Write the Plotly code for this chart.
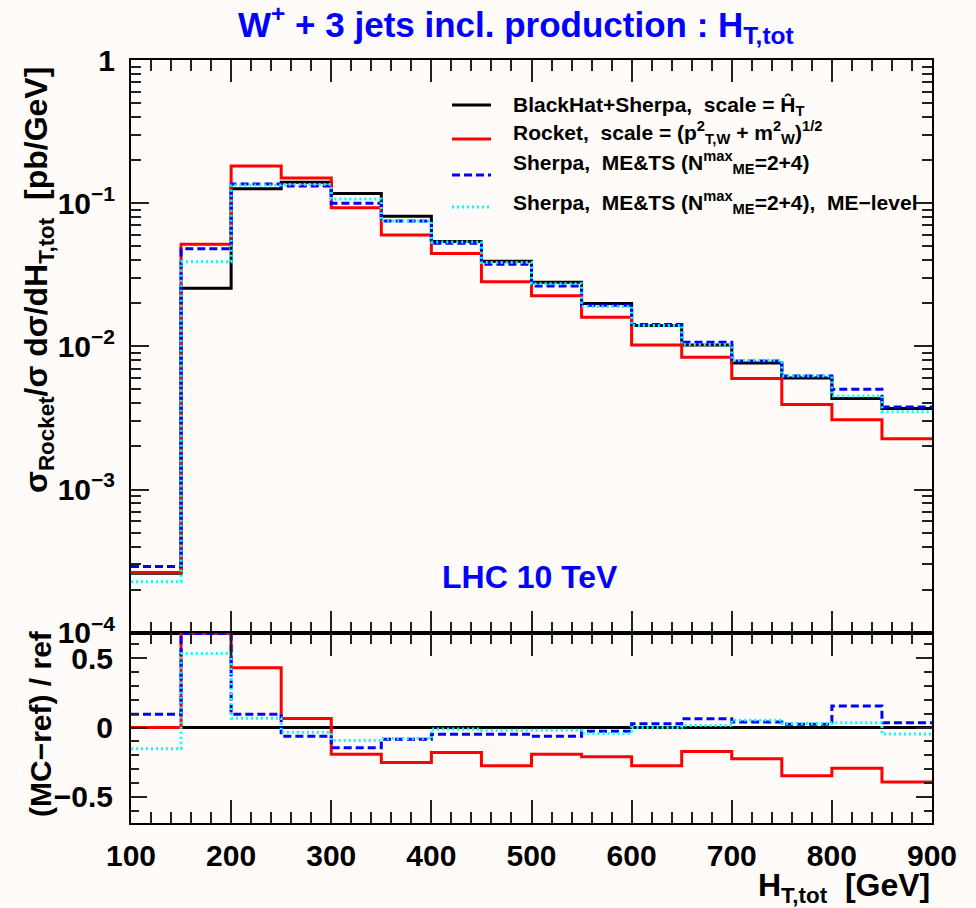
import plotly.graph_objects as go

# ---------------- data ----------------
bin_edges = [100, 150, 200, 250, 300, 350, 400, 450, 500, 550, 600, 650, 700, 750, 800, 850, 900]

blackhat = [2.6e-4, 0.0255, 0.126, 0.140, 0.117, 0.081, 0.054, 0.0393, 0.0280, 0.0199,
            0.0140, 0.0102, 0.00764, 0.0060, 0.00433, 0.00368]
rocket = [2.63e-4, 0.0516, 0.182, 0.150, 0.093, 0.060, 0.0445, 0.0283, 0.0226, 0.0160,
          0.0102, 0.0084, 0.00597, 0.00393, 0.00307, 0.00226]
sherpa = [2.9e-4, 0.048, 0.136, 0.132, 0.100, 0.075, 0.0525, 0.0375, 0.0264, 0.0194,
          0.0142, 0.0107, 0.0079, 0.0062, 0.00501, 0.00377]
sherpa_me = [2.27e-4, 0.039, 0.134, 0.135, 0.107, 0.075, 0.0535, 0.0385, 0.0274, 0.0190,
             0.0140, 0.0103, 0.0080, 0.0062, 0.0045, 0.0035]

# ratio panel (MC-ref)/ref ; 150-200 values of red & blue are clipped at the panel top
ratio_ref = [0, 0, 0, 0, 0, 0, 0, 0, 0, 0, 0, 0, 0, 0, 0, 0]
ratio_rocket = [0.0, 0.68, 0.431, 0.065, -0.193, -0.253, -0.181, -0.277, -0.193, -0.212,
                -0.277, -0.173, -0.225, -0.349, -0.295, -0.393]
ratio_sherpa = [0.096, 0.68, 0.096, -0.063, -0.147, -0.084, -0.048, -0.048, -0.063, -0.027,
                0.027, 0.063, 0.039, 0.024, 0.156, 0.034]
ratio_sherpa_me = [-0.153, 0.535, 0.067, -0.035, -0.094, -0.08, -0.01, -0.02, -0.02, -0.043,
                   0.0, 0.014, 0.053, 0.029, 0.034, -0.047]

x_ticks = [100, 200, 300, 400, 500, 600, 700, 800, 900]
y_ticks = [1e-4, 1e-3, 1e-2, 1e-1, 1]
y_ticktext = ["10<sup>−4</sup>", "10<sup>−3</sup>", "10<sup>−2</sup>", "10<sup>−1</sup>", "1"]
r_ticks = [-0.5, 0, 0.5]
r_ticktext = ["−0.5", "0", "0.5"]

legend_labels = [
    "BlackHat+Sherpa,  scale = Ĥ<sub>T</sub>",
    "Rocket,  scale = (p<sup>2</sup><sub>T,W</sub> + m<sup>2</sup><sub>W</sub>)<sup>1/2</sup>",
    "Sherpa,  ME&amp;TS (N<sup>max</sup><sub>ME</sub>=2+4)",
    "Sherpa,  ME&amp;TS (N<sup>max</sup><sub>ME</sub>=2+4),  ME−level",
]

# ---------------- styling ----------------
BG = "#fffbf8"
FONT = "Liberation Sans, Arial, Helvetica, sans-serif"
colors = ["#000000", "#ff0000", "#0000ff", "#00ffff"]
dashes = ["solid", "solid", "8px,4px", "2px,3px"]
LW = 3

# plot area in pixels
L, R, T, B = 131, 932, 60, 823
W, H = 976, 908
split = 632.7


def px(x):
    return (x - L) / (R - L)


def py(y):
    return (B - y) / (B - T)


def steps(vals):
    return vals + [vals[-1]]


fig = go.Figure()
series = [blackhat, rocket, sherpa, sherpa_me]
ratios = [ratio_ref, ratio_rocket, ratio_sherpa, ratio_sherpa_me]
for i in range(4):
    fig.add_trace(go.Scatter(x=bin_edges, y=steps(series[i]), mode="lines", line_shape="hv",
                             line=dict(color=colors[i], width=LW, dash=dashes[i]),
                             xaxis="x", yaxis="y", showlegend=False, hoverinfo="skip"))
for i in range(4):
    fig.add_trace(go.Scatter(x=bin_edges, y=steps(ratios[i]), mode="lines", line_shape="hv",
                             line=dict(color=colors[i], width=LW, dash=dashes[i]),
                             xaxis="x2", yaxis="y2", showlegend=False, hoverinfo="skip"))

split_frac = py(split)
tickfont = dict(family=FONT, size=30, color="black", weight="bold")
common = dict(showline=True, linecolor="black", linewidth=2, mirror="ticks",
              ticks="inside", tickcolor="#222", tickwidth=1.5, showgrid=False, zeroline=False)

fig.update_layout(
    width=W, height=H,
    margin=dict(l=L, r=W - R, t=T, b=H - B),
    paper_bgcolor=BG, plot_bgcolor=BG,
    xaxis=dict(domain=[0, 1], anchor="y", range=[100, 900], tickvals=x_ticks, ticklen=22,
               showticklabels=False,
               minor=dict(ticks="inside", dtick=20, tick0=100, ticklen=11, tickcolor="#222", tickwidth=1.5),
               **common),
    yaxis=dict(domain=[split_frac, 1], anchor="x", type="log", range=[-4, 0],
               tickvals=y_ticks, ticktext=y_ticktext, ticklen=18, tickfont=tickfont,
               ticklabelstandoff=8,
               minor=dict(ticks="inside", ticklen=10, tickcolor="#222", tickwidth=1.5,
                          tickvals=[d * 10.0 ** e for e in range(-4, 0) for d in range(2, 10)]),
               **common),
    xaxis2=dict(domain=[0, 1], anchor="y2", range=[100, 900], tickvals=x_ticks, ticklen=23,
                tickfont=tickfont, ticklabelstandoff=5,
                minor=dict(ticks="inside", dtick=20, tick0=100, ticklen=11, tickcolor="#222", tickwidth=1.5),
                **common),
    yaxis2=dict(domain=[0, split_frac], anchor="x2", range=[-0.69, 0.685],
                tickvals=r_ticks, ticktext=r_ticktext, ticklen=16, tickfont=tickfont,
                ticklabelstandoff=10,
                minor=dict(ticks="inside", dtick=0.1, tick0=0, ticklen=8, tickcolor="#222", tickwidth=1.5),
                **common),
)

ann = []
# title
ann.append(dict(text="W<sup>+</sup> + 3 jets incl. production : H<sub>T,tot</sub>",
                x=px(236), y=py(24), xanchor="left", yanchor="middle",
                font=dict(family=FONT, size=35, color="#0000ff", weight="bold")))
# y axis titles
ann.append(dict(text="σ<sub>Rocket</sub>/σ dσ/dH<sub>T,tot</sub>  [pb/GeV]",
                x=px(38), y=py(280), xanchor="center", yanchor="middle", textangle=-90,
                font=dict(family=FONT, size=32, color="black", weight="bold")))
ann.append(dict(text="(MC−ref) / ref", x=px(40), y=py(724), xanchor="center", yanchor="middle",
                textangle=-90, font=dict(family=FONT, size=30, color="black", weight="bold")))
# x axis title
ann.append(dict(text="H<sub>T,tot</sub>  [GeV]", x=px(932), y=py(887), xanchor="right",
                yanchor="middle", font=dict(family=FONT, size=32, color="black", weight="bold")))
# LHC label
ann.append(dict(text="LHC 10 TeV", x=px(530), y=py(577), xanchor="center", yanchor="middle",
                font=dict(family=FONT, size=32, color="#0000ff", weight="bold")))

legend_line_y = [105, 139, 175, 207]
legend_text_y = [106, 133, 162, 203]
shapes = []
for i, lab in enumerate(legend_labels):
    ann.append(dict(text=lab, x=px(511), y=py(legend_text_y[i]), xanchor="left", yanchor="middle",
                    font=dict(family=FONT, size=21, color="black", weight="bold")))
    shapes.append(dict(type="line", xref="paper", yref="paper",
                       x0=px(452), x1=px(491), y0=py(legend_line_y[i]), y1=py(legend_line_y[i]),
                       line=dict(color=colors[i], width=LW, dash=dashes[i])))

for a in ann:
    a.update(xref="paper", yref="paper", showarrow=False)
fig.update_layout(annotations=ann, shapes=shapes)

fig.write_html("out.html")
